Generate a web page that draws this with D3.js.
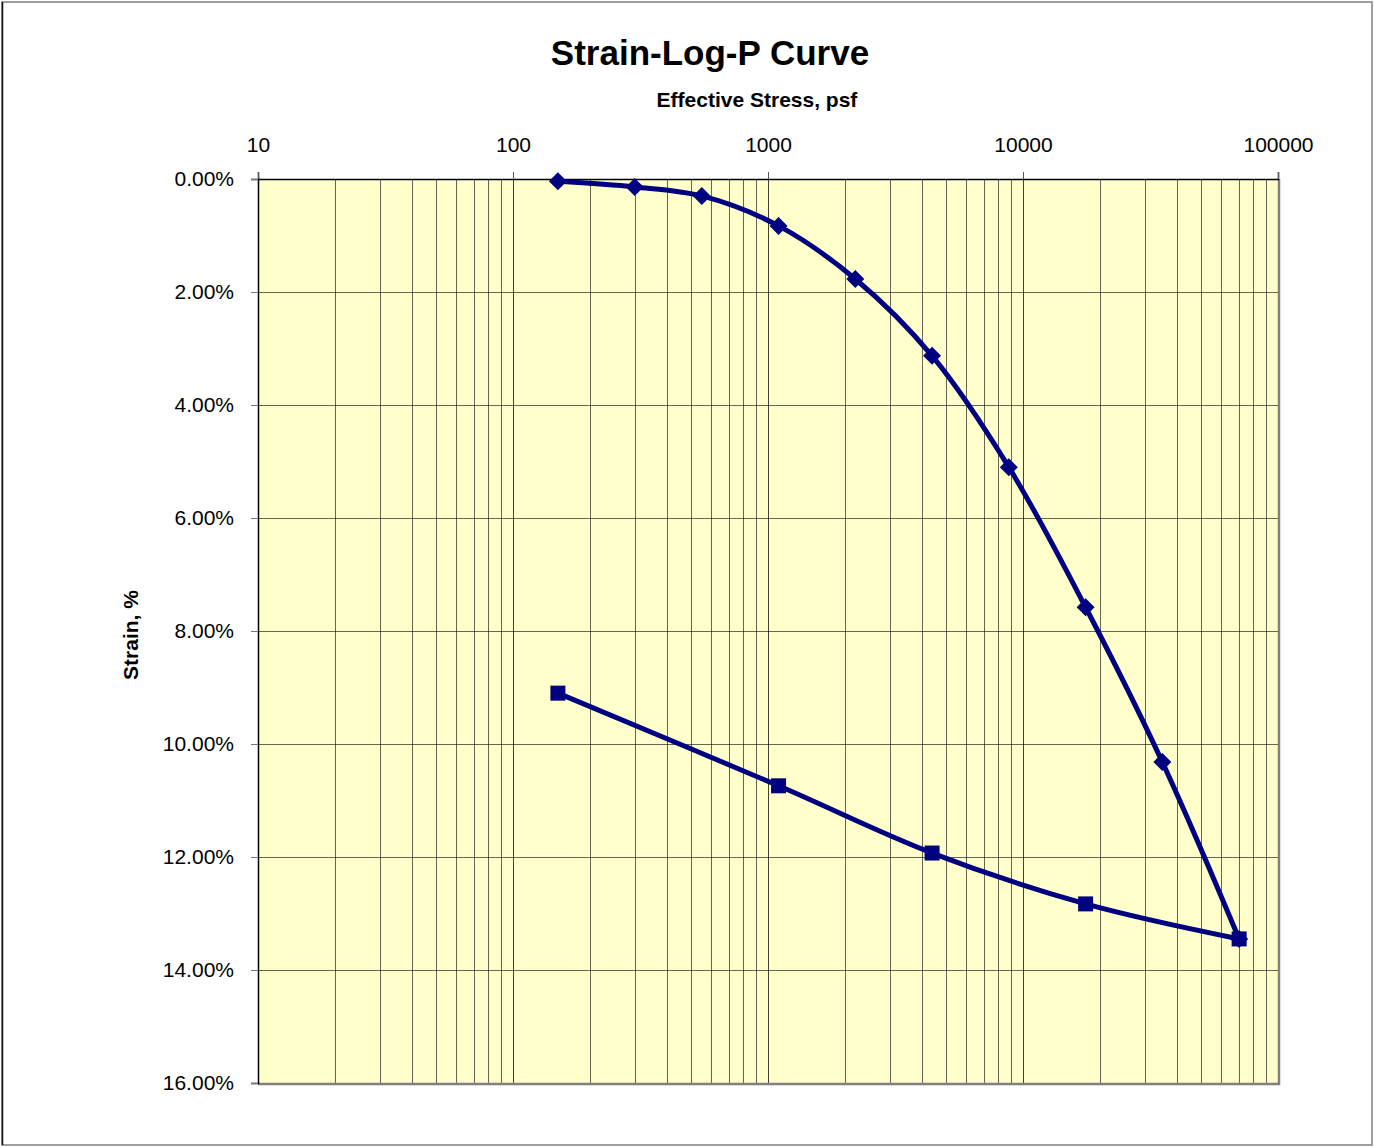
<!DOCTYPE html>
<html>
<head>
<meta charset="utf-8">
<script src="https://cdn.jsdelivr.net/npm/d3@7/dist/d3.min.js"></script>
<style>
  html, body { margin: 0; padding: 0; background: #fff; }
  svg { display: block; font-family: "Liberation Sans", Arial, sans-serif; }
</style>
</head>
<body>
<svg id="chart" width="1374" height="1147"></svg>
<script>
// Loading branch (diamonds): effective stress (psf) and strain (%)
const loadStress = [150, 300, 550, 1100, 2200, 4400, 8800, 17600, 35200, 70400];
const loadStrain = [0.04, 0.14, 0.30, 0.83, 1.77, 3.13, 5.10, 7.58, 10.32, 13.45];

// Unloading branch (squares)
const unloadStress = [70400, 17600, 4400, 1100, 150];
const unloadStrain = [13.45, 12.83, 11.93, 10.74, 9.10];

// Axis ticks
const xMajorTicks = [10, 100, 1000, 10000, 100000];
const yTicks = [0, 2, 4, 6, 8, 10, 12, 14, 16];

const svg = d3.select("#chart");
const W = 1374, H = 1147;
const plot = { left: 258, top: 179, right: 1278, bottom: 1083 };
const navy = "#000080";
const font = "'Liberation Sans', Arial, sans-serif";

// Outer chart frame
svg.append("rect").attr("x", 2).attr("y", 2).attr("width", W - 4).attr("height", H - 4)
  .attr("fill", "#fff").attr("stroke", "#808080").attr("stroke-width", 1.5);
svg.append("line").attr("x1", 2.5).attr("x2", 2.5).attr("y1", 2).attr("y2", H - 2)
  .attr("stroke", "#111").attr("stroke-width", 1.5);

const x = d3.scaleLog().domain([10, 100000]).range([plot.left, plot.right]);
const y = d3.scaleLinear().domain([0, 16]).range([plot.top, plot.bottom]);

// Plot background
svg.append("rect").attr("x", plot.left).attr("y", plot.top)
  .attr("width", plot.right - plot.left).attr("height", plot.bottom - plot.top)
  .attr("fill", "#FFFFCC");

// Vertical grid lines at every log step
const xGridVals = [];
for (let d = 10; d < 100000; d *= 10) {
  for (let k = 1; k <= 9; k++) xGridVals.push(d * k);
}
svg.append("g").selectAll("line").data(xGridVals.filter(v => v > 10)).join("line")
  .attr("x1", d => Math.round(x(d)) + 0.5).attr("x2", d => Math.round(x(d)) + 0.5)
  .attr("y1", plot.top).attr("y2", plot.bottom)
  .attr("stroke", "#000").attr("stroke-opacity", d => xMajorTicks.includes(d) ? 0.75 : 0.6)
  .attr("stroke-width", 1);

// Horizontal grid lines
svg.append("g").selectAll("line").data(yTicks.filter(v => v > 0 && v < 16)).join("line")
  .attr("x1", plot.left).attr("x2", plot.right)
  .attr("y1", d => Math.round(y(d)) + 0.5).attr("y2", d => Math.round(y(d)) + 0.5)
  .attr("stroke", "#000").attr("stroke-opacity", 0.6).attr("stroke-width", 1);

// Plot border: gray right/bottom, black top/left axes
svg.append("line").attr("x1", plot.right + 1).attr("x2", plot.right + 1)
  .attr("y1", plot.top).attr("y2", plot.bottom + 2).attr("stroke", "#808080").attr("stroke-width", 2.5);
svg.append("line").attr("x1", plot.left).attr("x2", plot.right + 2)
  .attr("y1", plot.bottom + 1).attr("y2", plot.bottom + 1).attr("stroke", "#808080").attr("stroke-width", 2.5);

// X axis on top
const xAxis = d3.axisTop(x).tickValues(xMajorTicks).tickFormat(d3.format("d")).tickSize(7).tickPadding(20);
const gx = svg.append("g").attr("transform", `translate(0,${plot.top})`).call(xAxis);
gx.select(".domain").attr("stroke", "#000").attr("stroke-width", 1.5);
gx.selectAll(".tick line").attr("stroke", "#555");
gx.selectAll("text").attr("font-size", 21).attr("fill", "#000").attr("font-family", font);

// Y axis on left
const yAxis = d3.axisLeft(y).tickValues(yTicks).tickFormat(d => d3.format(".2f")(d) + "%").tickSize(7).tickPadding(17);
const gy = svg.append("g").attr("transform", `translate(${plot.left},0)`).call(yAxis);
gy.select(".domain").attr("stroke", "#000").attr("stroke-width", 1.5);
gy.selectAll(".tick line").attr("stroke", "#777");
gy.selectAll("text").attr("font-size", 21).attr("fill", "#000").attr("font-family", font);

// Titles
svg.append("text").attr("x", 710).attr("y", 65).attr("text-anchor", "middle")
  .attr("font-size", 35).attr("font-weight", "bold").text("Strain-Log-P Curve");
svg.append("text").attr("x", 757).attr("y", 107).attr("text-anchor", "middle")
  .attr("font-size", 21).attr("font-weight", "bold").text("Effective Stress, psf");
svg.append("text").attr("transform", "translate(138,635) rotate(-90)").attr("text-anchor", "middle")
  .attr("font-size", 21).attr("font-weight", "bold").text("Strain, %");

// Series lines (smoothed)
const line = d3.line().x(d => x(d[0])).y(d => y(d[1])).curve(d3.curveCatmullRom.alpha(0.5));
const loadPts = loadStress.map((s, i) => [s, loadStrain[i]]);
const unloadPts = unloadStress.map((s, i) => [s, unloadStrain[i]]);

svg.append("path").datum(unloadPts).attr("d", line)
  .attr("fill", "none").attr("stroke", navy).attr("stroke-width", 5).attr("stroke-linejoin", "round");
svg.append("path").datum(loadPts).attr("d", line)
  .attr("fill", "none").attr("stroke", navy).attr("stroke-width", 5).attr("stroke-linejoin", "round");

// Markers
svg.append("g").selectAll("rect").data(unloadPts).join("rect")
  .attr("x", d => x(d[0]) - 7.5).attr("y", d => y(d[1]) - 7.5)
  .attr("width", 15).attr("height", 15).attr("fill", navy);
const diamond = "M0,-9L9,0L0,9L-9,0Z";
svg.append("g").selectAll("path").data(loadPts).join("path")
  .attr("transform", d => `translate(${x(d[0])},${y(d[1])})`)
  .attr("d", diamond).attr("fill", navy);
</script>
</body>
</html>
